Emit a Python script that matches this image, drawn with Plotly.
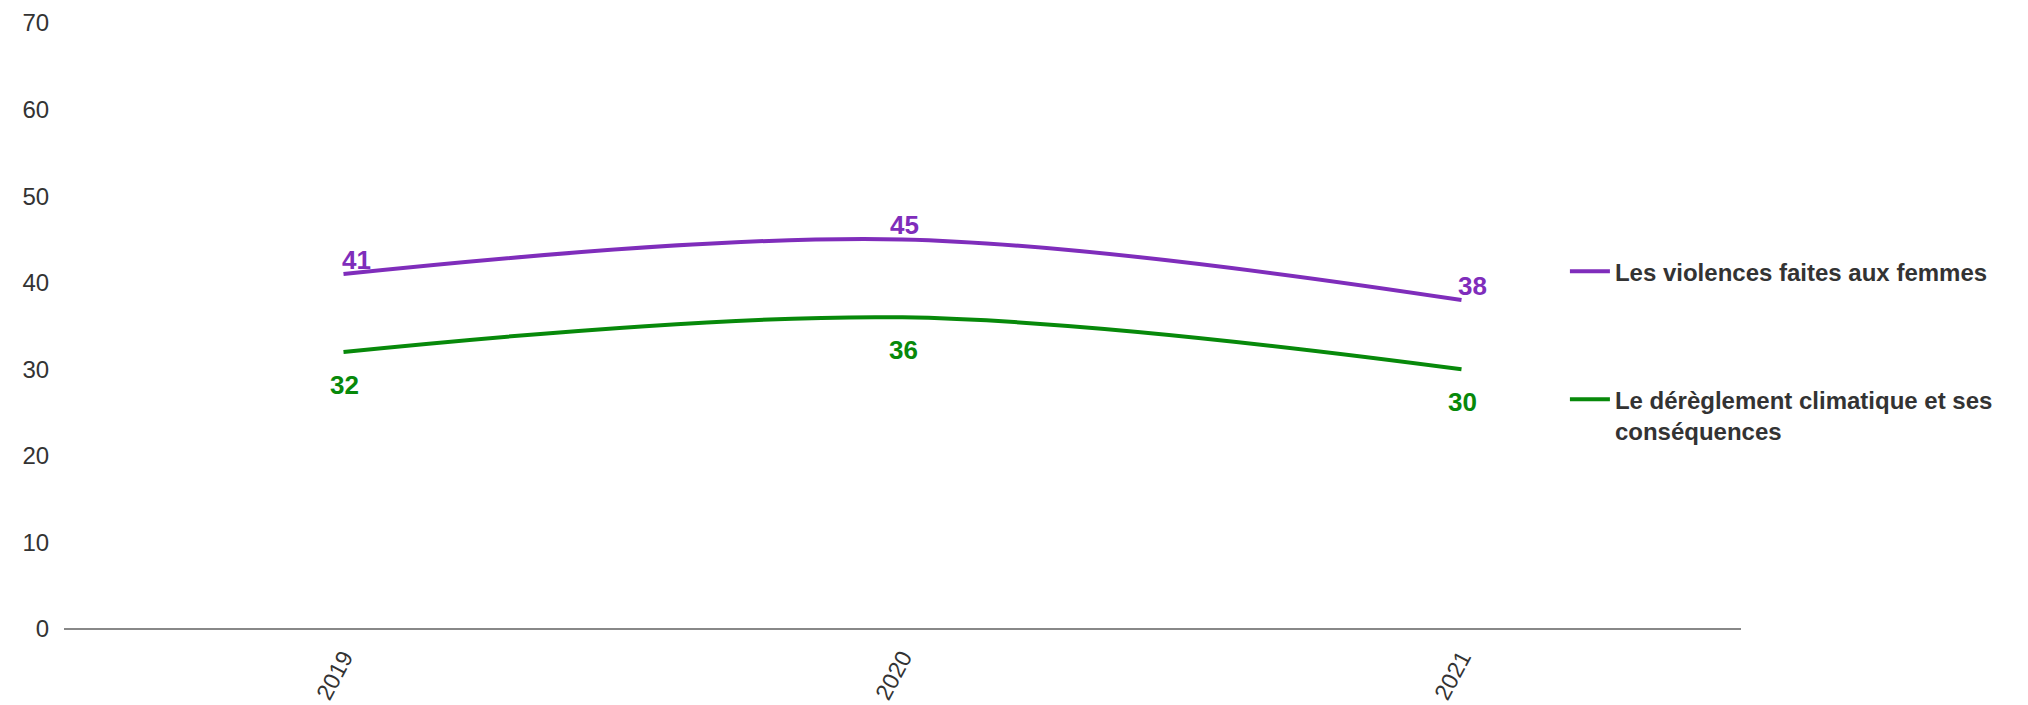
import plotly.graph_objects as go

years = ["2019", "2020", "2021"]
violences = [41, 45, 38]
climat = [32, 36, 30]
name_violences = "Les violences faites aux femmes"
name_climat = "Le dérèglement climatique et ses<br>conséquences"

purple = "#7f2dbb"
green = "#07890a"
FONT = "Liberation Sans, Arial"

fig = go.Figure()
fig.add_trace(go.Scatter(
    x=years, y=violences, name="<b>" + name_violences + "</b>", mode="lines",
    line=dict(color=purple, width=4, shape="spline", smoothing=1.0),
    legendgroup="a",
))
fig.add_trace(go.Scatter(
    x=years, y=climat, name="<b>" + name_climat.replace("<br>", "</b><br><b>") + "</b>",
    mode="lines",
    line=dict(color=green, width=4, shape="spline", smoothing=1.0),
    legendgroup="b",
))

# data labels, placed on the category axis by index, with pixel offsets
purple_xshift = [13, 2, 11]
green_xshift = [1, 1, 1]
annotations = []
for i, (v, dx) in enumerate(zip(violences, purple_xshift)):
    annotations.append(dict(x=i, y=v, xref="x", yref="y", text="<b>%d</b>" % v,
                            showarrow=False, xshift=dx, yshift=14, yanchor="middle",
                            font=dict(family=FONT, size=26, color=purple)))
for i, (v, dx) in enumerate(zip(climat, green_xshift)):
    annotations.append(dict(x=i, y=v, xref="x", yref="y", text="<b>%d</b>" % v,
                            showarrow=False, xshift=dx, yshift=-33, yanchor="middle",
                            font=dict(family=FONT, size=26, color=green)))

fig.update_layout(
    width=2028, height=705,
    margin=dict(l=56, r=295, t=15, b=84),
    plot_bgcolor="white", paper_bgcolor="white",
    font=dict(family=FONT, color="#333333"),
    showlegend=True,
    annotations=annotations,
    legend=dict(
        x=0.895, xanchor="left", y=0.627, yanchor="top", valign="top",
        font=dict(size=24, color="#333333"),
        tracegroupgap=94, itemwidth=40,
    ),
    xaxis=dict(
        type="category", range=[-0.5, 2.5], showgrid=False, showline=False,
        zeroline=False, tickangle=-62, tickfont=dict(size=23, color="#333333"),
        ticks="outside", ticklen=5, tickcolor="rgba(0,0,0,0)", automargin=False,
    ),
    yaxis=dict(
        range=[0, 70], dtick=10, showgrid=False, zeroline=True,
        zerolinecolor="#888888", zerolinewidth=2, showline=False,
        tickfont=dict(size=24, color="#333333"),
        ticks="outside", ticklen=9, tickcolor="rgba(0,0,0,0)", automargin=False,
    ),
)

fig.write_html("out.html")
